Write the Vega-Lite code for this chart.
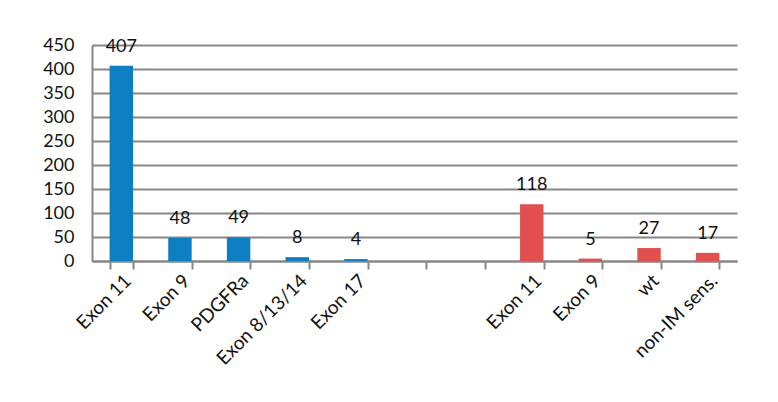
{
  "$schema": "https://vega.github.io/schema/vega-lite/v6.json",
  "autosize": {"type": "none"},
  "padding": {"left": 92, "top": 45, "right": 41, "bottom": 141},
  "width": 645,
  "height": 216,
  "background": "white",
  "config": {
    "font": "Lato",
    "view": {"stroke": null},
    "axis": {"labelFont": "Lato", "labelColor": "#111111", "labelFontSize": 18}
  },
  "data": {
    "values": [
      {"cat": "01|Exon 11", "group": "KIT", "n": 407},
      {"cat": "02|Exon 9", "group": "KIT", "n": 48},
      {"cat": "03|PDGFRa", "group": "KIT", "n": 49},
      {"cat": "04|Exon 8/13/14", "group": "KIT", "n": 8},
      {"cat": "05|Exon 17", "group": "KIT", "n": 4},
      {"cat": "08|Exon 11", "group": "other", "n": 118},
      {"cat": "09|Exon 9", "group": "other", "n": 5},
      {"cat": "10|wt", "group": "other", "n": 27},
      {"cat": "11|non-IM sens.", "group": "other", "n": 17}
    ]
  },
  "encoding": {
    "x": {
      "field": "cat",
      "type": "nominal",
      "scale": {
        "domain": ["01|Exon 11", "02|Exon 9", "03|PDGFRa", "04|Exon 8/13/14", "05|Exon 17", "06|", "07|", "08|Exon 11", "09|Exon 9", "10|wt", "11|non-IM sens."],
        "paddingInner": 0.6,
        "paddingOuter": 0.3
      },
      "axis": {
        "title": null,
        "labelExpr": "split(datum.value, '|')[1]",
        "labelAngle": -45,
        "labelAlign": "right",
        "labelBaseline": "top",
        "labelPadding": 2,
        "labelFontSize": 19,
        "tickBand": "extent",
        "tickSize": 8,
        "tickColor": "#868686",
        "tickWidth": 2,
        "domainColor": "#868686",
        "domainWidth": 2,
        "grid": false
      }
    },
    "y": {
      "field": "n",
      "type": "quantitative",
      "scale": {"domain": [0, 450], "nice": false},
      "axis": {
        "title": null,
        "values": [0, 50, 100, 150, 200, 250, 300, 350, 400, 450],
        "ticks": false,
        "labelPadding": 18,
        "gridColor": "#868686",
        "gridWidth": 2,
        "domainColor": "#868686",
        "domainWidth": 2
      }
    }
  },
  "layer": [
    {
      "mark": {"type": "bar"},
      "encoding": {
        "color": {
          "field": "group",
          "type": "nominal",
          "scale": {"domain": ["KIT", "other"], "range": ["#0E7EC2", "#E0504F"]},
          "legend": null
        }
      }
    },
    {
      "mark": {"type": "text", "baseline": "alphabetic", "dy": -14, "fontSize": 18, "color": "#111111"},
      "encoding": {"text": {"field": "n", "type": "quantitative"}}
    }
  ]
}
